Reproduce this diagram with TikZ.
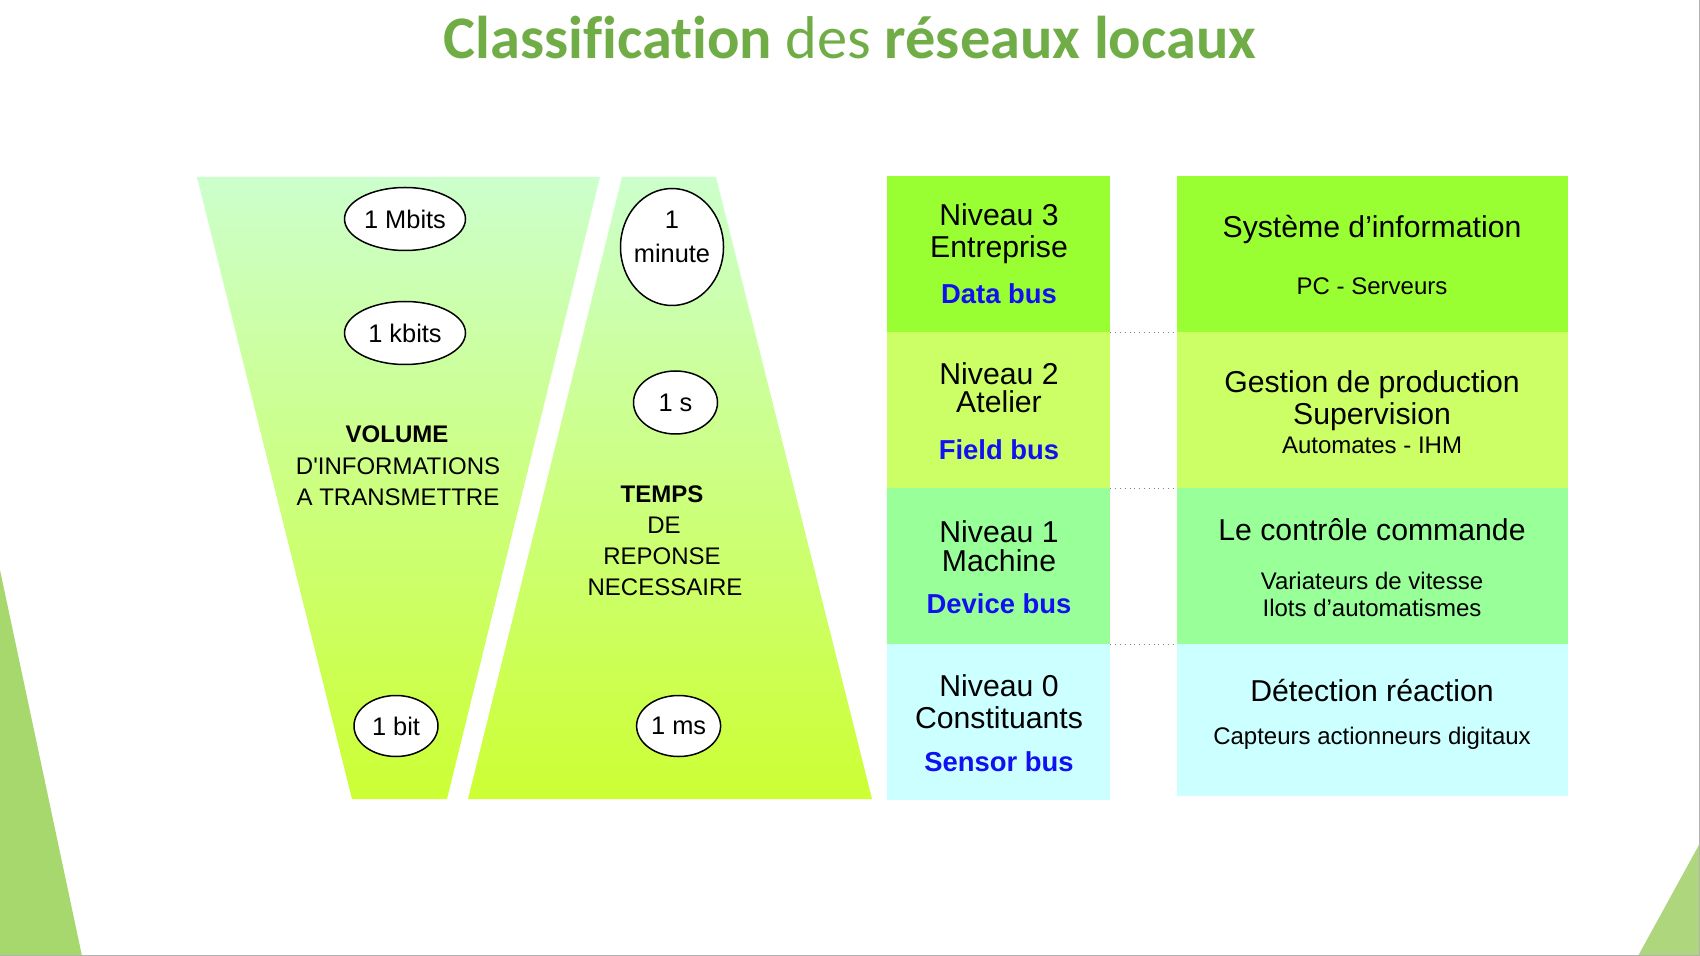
\documentclass[tikz,border=0pt]{standalone}
\usepackage{fontspec}
\setmainfont{Liberation Sans}
\newfontfamily\titlefont[Ligatures=NoCommon]{Carlito}
\usetikzlibrary{shapes.geometric}
\definecolor{titlegreen}{HTML}{70AD47}
\definecolor{trapTop}{HTML}{CCFFCC}
\definecolor{trapBot}{HTML}{CCFF33}
\definecolor{lvlC}{HTML}{99FF33}
\definecolor{lvlB}{HTML}{CCFF66}
\definecolor{lvlA}{HTML}{99FF99}
\definecolor{lvlZ}{HTML}{CCFFFF}
\definecolor{busblue}{HTML}{1010F0}
\definecolor{cornerL}{HTML}{A6D86E}
\definecolor{cornerR}{HTML}{AED67C}

\begin{document}
\begin{tikzpicture}[x=0.5pt, y=-0.5pt,
	oval/.style={draw, ellipse, line width=0.75pt, fill=white, inner sep=0pt, font=\fontsize{12.7}{14}\selectfont},
	ovaltxt/.style={anchor=base, inner sep=0pt, font=\fontsize{12.7}{14}\selectfont},
	trap/.style={anchor=base, inner sep=0pt, font=\fontsize{12}{14}\selectfont},
	mid/.style={minimum width=111.5pt, minimum height=78pt, inner sep=0pt},
	side/.style={minimum width=195.5pt, minimum height=78pt, inner sep=0pt},
	head/.style={anchor=base, inner sep=0pt, font=\fontsize{15.1}{16}\selectfont},
	bus/.style={anchor=base, inner sep=0pt, text=busblue, font=\bfseries\fontsize{13.7}{15}\selectfont},
	sub/.style={anchor=base, inner sep=0pt, font=\fontsize{12}{14}\selectfont},
	sepline/.style={gray, dotted, line width=0.4pt}]
		%%%%% START %%%%%
		
		\path[use as bounding box, fill=white] (0,0) rectangle (1700,956);
		
		\fill[cornerL] (0,570) -- (82,956) -- (0,956) -- cycle;
		\fill[cornerR] (1700,843) -- (1638,956) -- (1700,956) -- cycle;
		\draw[gray!60, line width=0.75pt] (1699.3,0) -- (1699.3,955.3) -- (0,955.3);
		
		\node[anchor=base, inner sep=0pt, text=titlegreen, font=\titlefont\fontsize{30.2}{36}\selectfont] (title) at (850,59) {\textbf{Classification} des \textbf{réseaux locaux}};
		
		\shade[top color=trapTop, bottom color=trapBot] (197,177) -- (600,177) -- (447,799) -- (352,799) -- cycle;
		\shade[top color=trapTop, bottom color=trapBot] (622,177) -- (716,177) -- (872,799) -- (468,799) -- cycle;
		
		\node[oval, minimum width=60.5pt, minimum height=31.5pt] (mbits) at (405,219) {1 Mbits};
		\node[oval, minimum width=60.5pt, minimum height=31.5pt] (kbits) at (405,333) {1 kbits};
		\node[oval, minimum width=42pt, minimum height=30.5pt] (bit) at (396,726) {1 bit};
		
		\node[oval, minimum width=51.5pt, minimum height=58.5pt] (minute) at (672,247) {};
		\node[ovaltxt] (minuteA) at (672,229) {1};
		\node[ovaltxt] (minuteB) at (672,262.5) {minute};
		\node[oval, minimum width=42pt, minimum height=31.5pt] (sec) at (675.5,402.5) {1 s};
		\node[oval, minimum width=42pt, minimum height=30.5pt] (ms) at (678.6,726) {1 ms};
		
		\node[trap] (volA) at (397,443) {\textbf{VOLUME}};
		\node[trap] (volB) at (398,474.6) {D\textquotesingle INFORMATIONS};
		\node[trap] (volC) at (398,505.6) {A TRANSMETTRE};
		
		\node[trap] (tpsA) at (662,502.6) {\textbf{TEMPS}};
		\node[trap] (tpsB) at (664,533.6) {DE};
		\node[trap] (tpsC) at (662,564.6) {REPONSE};
		\node[trap] (tpsD) at (665,595.6) {NECESSAIRE};
		
		\node[mid, fill=lvlC] (n3) at (998.5,254) {};
		\node[mid, fill=lvlB] (n2) at (998.5,410) {};
		\node[mid, fill=lvlA] (n1) at (998.5,566) {};
		\node[mid, fill=lvlZ] (n0) at (998.5,722) {};
		
		\node[side, fill=lvlC] (s3) at (1372.5,254) {};
		\node[side, fill=lvlB] (s2) at (1372.5,410) {};
		\node[side, fill=lvlA] (s1) at (1372.5,566) {};
		\node[side, fill=lvlZ, minimum height=76pt] (s0) at (1372.5,720) {};
		
		\draw[sepline] (n3.south east) -- (s3.south west);
		\draw[sepline] (n2.south east) -- (s2.south west);
		\draw[sepline] (n1.south east) -- (s1.south west);
		
		\node[head] (n3a) at (999,226) {Niveau 3};
		\node[head] (n3b) at (999,258) {Entreprise};
		\node[bus] (n3c) at (999,304) {Data bus};
		
		\node[head] (n2a) at (999,385) {Niveau 2};
		\node[head] (n2b) at (999,413) {Atelier};
		\node[bus] (n2c) at (999,459) {Field bus};
		
		\node[head] (n1a) at (999,542) {Niveau 1};
		\node[head] (n1b) at (999,571) {Machine};
		\node[bus] (n1c) at (999,613) {Device bus};
		
		\node[head] (n0a) at (999,696) {Niveau 0};
		\node[head] (n0b) at (999,728) {Constituants};
		\node[bus] (n0c) at (999,771) {Sensor bus};
		
		\node[head] (s3a) at (1372,237.5) {Système d’information};
		\node[sub] (s3b) at (1372,294.6) {PC - Serveurs};
		
		\node[head] (s2a) at (1372,392.6) {Gestion de production};
		\node[head] (s2b) at (1372,424.5) {Supervision};
		\node[sub] (s2c) at (1372,453) {Automates - IHM};
		
		\node[head] (s1a) at (1372,540) {Le contrôle commande};
		\node[sub] (s1b) at (1372,589) {Variateurs de vitesse};
		\node[sub] (s1c) at (1372,616.6) {Ilots d’automatismes};
		
		\node[head] (s0a) at (1372,701.5) {Détection réaction};
		\node[sub] (s0b) at (1372,744) {Capteurs actionneurs digitaux};
		
		%%%%% END %%%%%
	\end{tikzpicture}
\end{document}
